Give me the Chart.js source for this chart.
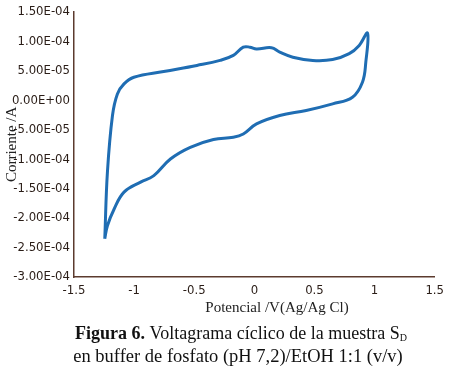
<!DOCTYPE html>
<html>
<head>
<meta charset="utf-8">
<script src="https://cdn.jsdelivr.net/npm/chart.js@4"></script>
<style>
  html, body { margin: 0; padding: 0; background: #fff; }
  #wrap { width: 450px; height: 370px; position: relative; }
</style>
</head>
<body>
<div id="wrap"><canvas id="c" width="450" height="370"></canvas></div>
<script>
// Potential (V vs Ag/AgCl) and current (A) along the cyclic voltammogram loop
const potential = [
  -1.244, -1.222, -1.180, -1.139, -1.084, -1.002, -0.754, -0.478, -0.285, -0.175,
  -0.092, -0.037, 0.018, 0.142, 0.211, 0.320, 0.486, 0.651, 0.789, 0.872, 0.941,
  0.927, 0.899, 0.816, 0.651, 0.431, 0.211, 0.018, -0.092, -0.175, -0.340,
  -0.533, -0.698, -0.836, -0.946, -1.084, -1.167, -1.222, -1.244
];
const current = [
  -2.35e-4, -1.22e-4, -2.6e-5, 1.07e-5, 2.77e-5, 3.9e-5, 4.87e-5, 5.9e-5, 6.75e-5, 7.6e-5,
  9.0e-5, 9.0e-5, 8.7e-5, 8.9e-5, 8.16e-5, 7.3e-5, 6.75e-5, 6.9e-5, 7.9e-5, 9.3e-5, 1.14e-4,
  6.46e-5, 3.06e-5, 5.1e-6, -6.3e-6, -1.75e-5, -2.6e-5, -4.03e-5, -5.73e-5, -6.29e-5, -6.68e-5,
  -8.0e-5, -9.98e-5, -1.28e-4, -1.39e-4, -1.56e-4, -1.85e-4, -2.13e-4, -2.35e-4
];
const xTicks = [-1.5, -1, -0.5, 0, 0.5, 1, 1.5];
const yTicks = [1.5e-4, 1.0e-4, 5.0e-5, 0, -5.0e-5, -1.0e-4, -1.5e-4, -2.0e-4, -2.5e-4, -3.0e-4];
const xTitle = 'Potencial /V(Ag/Ag Cl)';
const yTitle = 'Corriente /A';
const captionBold = 'Figura 6.';
const captionRest = ' Voltagrama cíclico de la muestra S';
const captionSub = 'D';
const captionLine2 = 'en buffer de fosfato (pH 7,2)/EtOH 1:1 (v/v)';

const points = potential.map((v, i) => ({ x: v, y: current[i] }));

function fmtExp(v) {
  if (v === 0) return '0.00E+00';
  const e = Math.floor(Math.log10(Math.abs(v)) + 1e-9);
  const m = v / Math.pow(10, e);
  const es = (e < 0 ? '-' : '+') + String(Math.abs(e)).padStart(2, '0');
  return m.toFixed(2) + 'E' + es;
}

const tickFont = { family: "'Liberation Sans Narrow', 'DejaVu Sans Condensed', 'Liberation Sans', sans-serif", size: 13 };
const tickColor = '#2a1d17';
const axisColor = '#5c3b2e';
const serif = "'Liberation Serif', 'DejaVu Serif', serif";

const textPlugin = {
  id: 'texts',
  afterDraw(chart) {
    const ctx = chart.ctx;
    const area = chart.chartArea;
    ctx.save();
    ctx.fillStyle = '#222';
    ctx.textBaseline = 'middle';
    // x title
    ctx.font = '15px ' + serif;
    ctx.textAlign = 'center';
    ctx.fillText(xTitle, 277, 308);
    // y title
    ctx.save();
    ctx.translate(12, (area.top + area.bottom) / 2);
    ctx.rotate(-Math.PI / 2);
    ctx.fillText(yTitle, 0, 0);
    ctx.restore();
    // caption line 1
    ctx.fillStyle = '#111';
    ctx.textAlign = 'left';
    const bFont = 'bold 18px ' + serif, nFont = '18px ' + serif, sFont = '10px ' + serif;
    ctx.font = bFont; const w1 = ctx.measureText(captionBold).width;
    ctx.font = nFont; const w2 = ctx.measureText(captionRest).width;
    ctx.font = sFont; const w3 = ctx.measureText(captionSub).width;
    let x = 241 - (w1 + w2 + w3) / 2;
    const y1 = 334;
    ctx.font = bFont; ctx.fillText(captionBold, x, y1); x += w1;
    ctx.font = nFont; ctx.fillText(captionRest, x, y1); x += w2;
    ctx.font = sFont; ctx.fillText(captionSub, x, y1 + 4);
    // caption line 2
    ctx.font = '18.5px ' + serif; ctx.textAlign = 'center';
    ctx.fillText(captionLine2, 238, 357);
    ctx.restore();
  }
};

new Chart(document.getElementById('c'), {
  type: 'scatter',
  data: {
    datasets: [{
      data: points,
      showLine: true,
      borderColor: '#1f6db3',
      borderWidth: 3,
      pointRadius: 0,
      tension: 0.4,
      fill: false
    }]
  },
  options: {
    responsive: false,
    animation: false,
    layout: { padding: { top: 10, right: 13, left: 0, bottom: 0 } },
    plugins: { legend: { display: false }, tooltip: { enabled: false } },
    scales: {
      x: {
        type: 'linear', min: -1.5, max: 1.5,
        afterBuildTicks(s) { s.ticks = xTicks.map(v => ({ value: v })); },
        afterFit(s) { s.height = 93; },
        grid: { display: false, drawTicks: false },
        border: { display: true, color: axisColor, width: 1.5 },
        ticks: { font: tickFont, color: tickColor, padding: 6, maxRotation: 0, autoSkip: false,
                 callback: v => String(v) }
      },
      y: {
        type: 'linear', min: -3e-4, max: 1.5e-4,
        afterBuildTicks(s) { s.ticks = yTicks.map(v => ({ value: v })); },
        afterFit(s) { s.width = 74; },
        grid: { display: false, drawTicks: false },
        border: { display: true, color: axisColor, width: 1.5 },
        ticks: { font: tickFont, color: tickColor, padding: 4, autoSkip: false,
                 callback: v => fmtExp(v) }
      }
    }
  },
  plugins: [textPlugin]
});
</script>
</body>
</html>
